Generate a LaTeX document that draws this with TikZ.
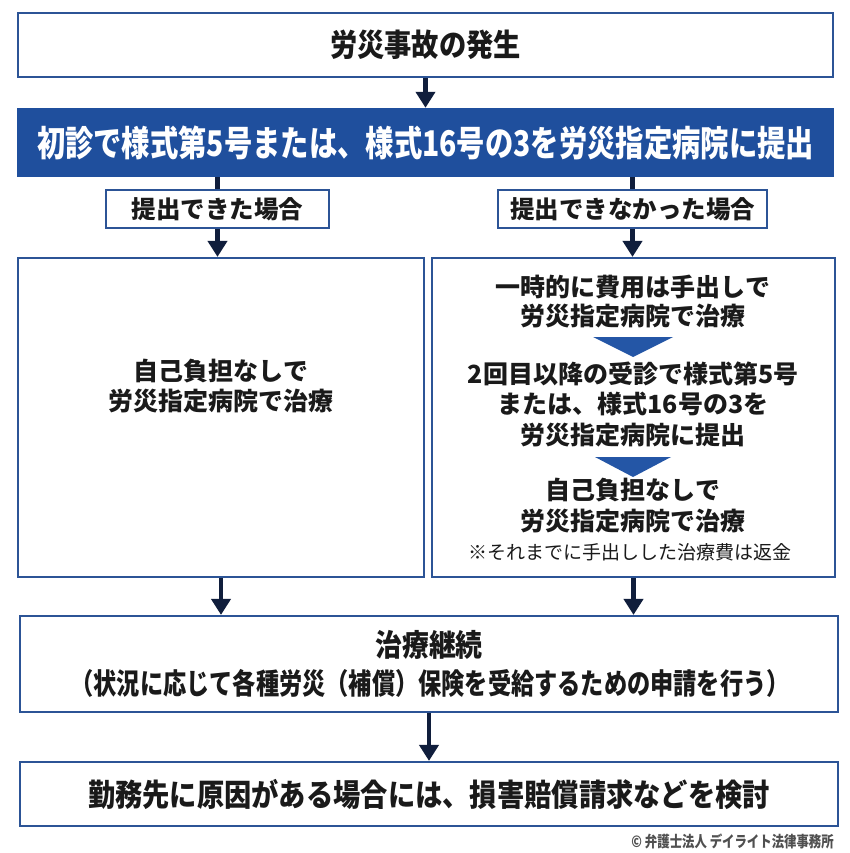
\documentclass[tikz,border=0pt]{standalone}
\usepackage{fontspec}
\usetikzlibrary{arrows.meta}
\newfontfamily\jp{Noto Sans CJK JP}
\newfontfamily\jpc{Noto Sans CJK JP}[FakeStretch=0.88]
\newfontfamily\jpcc{Noto Sans CJK JP}[FakeStretch=0.8]
\definecolor{bord}{RGB}{44,84,150}
\definecolor{bandblue}{RGB}{31,79,157}
\definecolor{navy}{RGB}{16,30,60}
\definecolor{ink}{RGB}{26,26,26}
\definecolor{triblue}{RGB}{36,86,166}
\definecolor{copygray}{RGB}{80,80,80}
\begin{document}
\begin{tikzpicture}[x=1pt,y=-1pt,
  box/.style={draw=bord, line width=2.2pt, fill=white, rectangle, inner sep=0pt, text=ink},
  arr/.style={draw=navy, line width=4.5pt, -{Triangle[width=19pt,length=16pt]}},
  link/.style={draw=navy, line width=4.5pt},
  txt/.style={inner sep=0pt, text=ink, align=center},
]
\useasboundingbox[fill=white] (0,0) rectangle (850,853);

\node[box, minimum width=815pt, minimum height=64pt,
  font={\jpc\bfseries\fontsize{31}{31}\selectfont}] (top) at (425.5,45) {労災事故の発生};

\node[fill=bandblue, draw=none, rectangle, inner sep=0pt, minimum width=817pt, minimum height=69pt,
  text=white, font={\jpcc\bfseries\fontsize{35.4}{35.4}\selectfont}] (band) at (425.5,142.5)
  {初診で様式第5号または、様式16号の3を労災指定病院に提出};

\node[box, line width=2pt, minimum width=223pt, minimum height=38pt,
  font={\jp\bfseries\fontsize{24.5}{24.5}\selectfont}] (lab1) at (217.5,209) {提出できた場合};
\node[box, line width=2pt, minimum width=269pt, minimum height=38pt,
  font={\jp\bfseries\fontsize{24.5}{24.5}\selectfont}] (lab2) at (632.5,209) {提出できなかった場合};

\node[box, minimum width=406pt, minimum height=319pt] (lbox) at (221,417.5) {};
\node[box, minimum width=403pt, minimum height=319pt] (rbox) at (633.5,417.5) {};

\node[txt, font={\jp\bfseries\fontsize{25}{30}\selectfont}] (ltext) at (221,386)
  {自己負担なしで\\労災指定病院で治療};

\node[txt, font={\jp\bfseries\fontsize{25}{29}\selectfont}] (r1) at (633,302)
  {一時的に費用は手出しで\\労災指定病院で治療};
\node[txt, font={\jp\bfseries\fontsize{25}{30.5}\selectfont}] (r2) at (633,404)
  {2回目以降の受診で様式第5号\\または、様式16号の3を\\労災指定病院に提出};
\node[txt, font={\jp\bfseries\fontsize{25}{31}\selectfont}] (r3) at (633,505.5)
  {自己負担なしで\\労災指定病院で治療};
\node[txt, font={\jp\fontsize{19}{19}\selectfont}] (rnote) at (630,552)
  {※それまでに手出しした治療費は返金};

\fill[triblue] (593,337) -- (673,337) -- (633,357) -- cycle;
\fill[triblue] (595,457) -- (671,457) -- (633,477) -- cycle;

\node[box, minimum width=818pt, minimum height=96pt] (cont) at (429,664) {};
\node[txt, font={\jpc\bfseries\fontsize{30.5}{30.5}\selectfont}] (c1) at (429,645) {治療継続};
\node[txt, font={\jpcc\bfseries\fontsize{29}{29}\selectfont}] (c2) at (430,683)
  {（状況に応じて各種労災（補償）保険を受給するための申請を行う）};

\node[box, minimum width=818pt, minimum height=64pt,
  font={\jpc\bfseries\fontsize{31}{31}\selectfont}] (last) at (429,794)
  {勤務先に原因がある場合には、損害賠償請求などを検討};

\node[inner sep=0pt, anchor=east, text=copygray,
  font={\jpcc\bfseries\fontsize{15.5}{15.5}\selectfont}] (copy) at (834,841)
  {© 弁護士法人 デイライト法律事務所};

\draw[arr] (top) -- (band);
\draw[link] (band.south -| lab1.north) -- (lab1.north);
\draw[link] (band.south -| lab2.north) -- (lab2.north);
\draw[arr] (lab1.south) -- (lab1.south |- lbox.north);
\draw[arr] (lab2.south) -- (lab2.south |- rbox.north);
\draw[arr] (lbox.south) -- (lbox.south |- cont.north);
\draw[arr] (rbox.south) -- (rbox.south |- cont.north);
\draw[arr] (cont) -- (last);
\end{tikzpicture}
\end{document}
